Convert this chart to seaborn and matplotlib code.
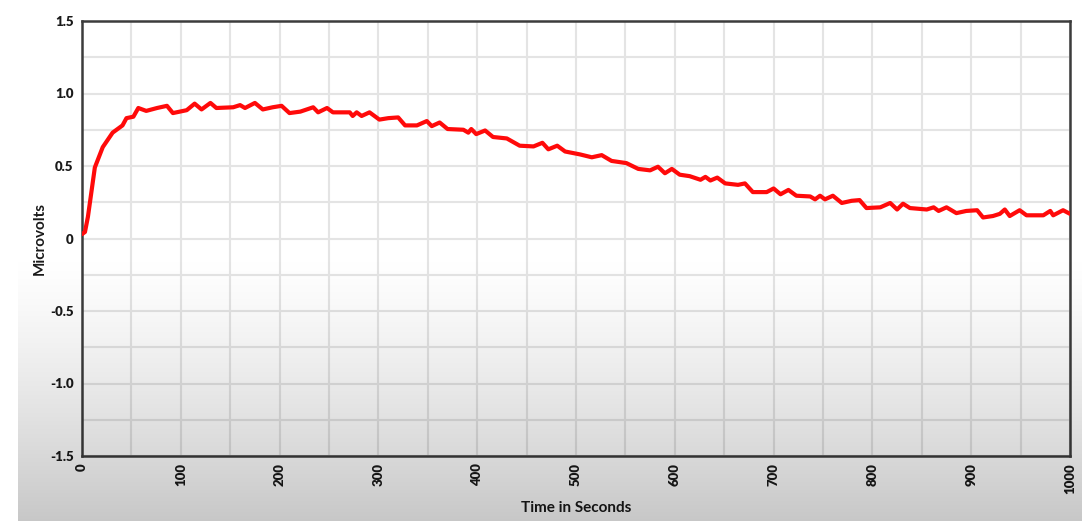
import numpy as np
import matplotlib
matplotlib.use('Agg')
import matplotlib.pyplot as plt
import seaborn as sns

# Values
time_s = [0, 3, 6, 13, 21, 31, 41, 45, 52, 57,
          65, 76, 86, 92, 106, 114, 121, 130, 136, 153,
          160, 165, 175, 183, 193, 202, 210, 221, 234, 239,
          248, 254, 271, 274, 278, 283, 291, 301, 310, 320,
          327, 339, 349, 354, 362, 370, 386, 391, 394, 399,
          408, 416, 430, 443, 457, 466, 472, 481, 489, 504,
          516, 526, 536, 551, 563, 575, 583, 590, 597, 605,
          615, 626, 631, 636, 643, 651, 664, 671, 679, 693,
          700, 707, 715, 723, 737, 742, 747, 752, 760, 769,
          779, 787, 794, 808, 818, 825, 831, 838, 855, 862,
          867, 875, 885, 895, 906, 912, 922, 929, 934, 939,
          949, 956, 973, 980, 983, 993, 1000]
microvolts = [0.03, 0.045, 0.15, 0.49, 0.63, 0.73, 0.78, 0.83, 0.84, 0.90,
              0.88, 0.90, 0.915, 0.865, 0.885, 0.93, 0.89, 0.935, 0.90, 0.905,
              0.92, 0.90, 0.935, 0.89, 0.905, 0.915, 0.865, 0.875, 0.905, 0.87,
              0.90, 0.87, 0.87, 0.845, 0.87, 0.845, 0.87, 0.82, 0.83, 0.835,
              0.78, 0.78, 0.81, 0.775, 0.80, 0.755, 0.75, 0.73, 0.755, 0.72,
              0.745, 0.70, 0.69, 0.64, 0.635, 0.66, 0.615, 0.64, 0.60, 0.58,
              0.56, 0.575, 0.535, 0.52, 0.48, 0.47, 0.495, 0.45, 0.48, 0.44,
              0.43, 0.405, 0.425, 0.40, 0.42, 0.38, 0.37, 0.38, 0.32, 0.32,
              0.345, 0.305, 0.335, 0.295, 0.29, 0.27, 0.295, 0.27, 0.295, 0.245,
              0.26, 0.265, 0.21, 0.215, 0.245, 0.20, 0.24, 0.21, 0.20, 0.215,
              0.19, 0.215, 0.175, 0.19, 0.195, 0.145, 0.155, 0.17, 0.20, 0.155,
              0.195, 0.16, 0.16, 0.19, 0.16, 0.195, 0.17]

x_ticks = list(range(0, 1001, 100))
y_ticks = [-1.5, -1.0, -0.5, 0, 0.5, 1.0, 1.5]
y_tick_labels = ['-1.5', '-1.0', '-0.5', '0', '0.5', '1.0', '1.5']

sns.set_style('white')
plt.rcParams['font.family'] = ['Lato', 'DejaVu Sans']

W, H = 1082, 521
fig = plt.figure(figsize=(W / 100, H / 100), dpi=100)
fig.patch.set_facecolor('white')

# Main plot
ax = fig.add_axes([82 / W, (H - 456) / H, (1070 - 82) / W, (456 - 21) / H], zorder=1)
ax.set_facecolor('white')

sns.lineplot(x=time_s, y=microvolts, color='#ff0a0a', linewidth=3.0, ax=ax, zorder=3,
             solid_joinstyle='round', solid_capstyle='round')

ax.set_xlim(0, 1000)
ax.set_ylim(-1.5, 1.5)
ax.set_xticks(x_ticks)
ax.set_xticks(range(50, 1000, 100), minor=True)
ax.set_yticks(y_ticks)
ax.set_yticks([-1.25, -0.75, -0.25, 0.25, 0.75, 1.25], minor=True)
ax.set_yticklabels(y_tick_labels)
ax.set_xticklabels([str(t) for t in x_ticks], rotation=90)

ax.grid(True, which='both', color='#e4e4e4', linewidth=1.5)
ax.set_axisbelow(True)
ax.tick_params(which='both', length=0, labelsize=9.5, labelcolor='#1a1a1a')
ax.tick_params(axis='y', pad=6)
ax.tick_params(axis='x', pad=5)
for lab in ax.get_xticklabels() + ax.get_yticklabels():
    lab.set_fontweight('heavy')

for side in ['left', 'bottom', 'top', 'right']:
    ax.spines[side].set_visible(True)
    ax.spines[side].set_color('#3c3c3c')
    ax.spines[side].set_linewidth(1.8)

ax.set_xlabel('Time in Seconds', fontsize=11, fontweight='bold', color='#1a1a1a', labelpad=5)
ax.set_ylabel('Microvolts', fontsize=11, fontweight='bold', color='#1a1a1a', labelpad=2)

# Grey fade laid over the lower part (screen capture look)
ov = fig.add_axes([18 / W, 0, 1 - 18 / W, 1], zorder=5)
rows = np.linspace(0, 1, 256)
ramp = np.clip((rows - 0.48) / 0.52, 0, 1)
alpha = ramp ** 1.3 * 0.22
rgba = np.zeros((256, 1, 4))
rgba[:, 0, 3] = alpha
ov.imshow(rgba, aspect='auto', extent=[0, 1, 1, 0])
ov.axis('off')
ov.patch.set_alpha(0)

fig.savefig('out.png', dpi=100)
